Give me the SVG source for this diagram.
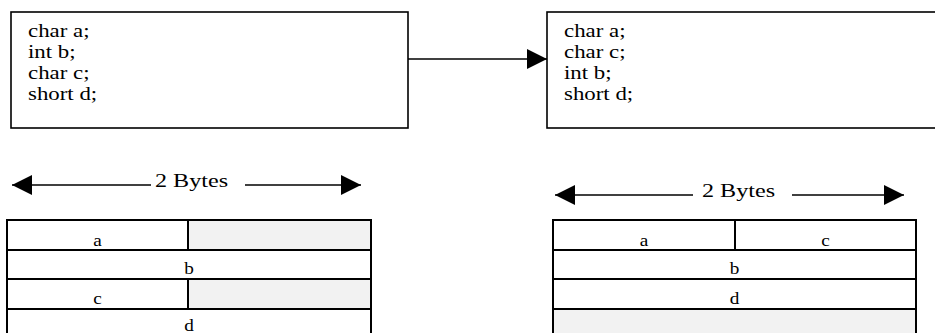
<svg xmlns="http://www.w3.org/2000/svg" width="935" height="333" viewBox="0 0 935 333">
<style>
.box{fill:#fff;stroke:#000;stroke-width:1.6}
.cell{fill:#fff;stroke:#000;stroke-width:2}
.pad{fill:#f2f2f2;stroke:#000;stroke-width:2}
.ln{stroke:#000;stroke-width:1.5;fill:none}
.t{font-family:"Liberation Serif","Times New Roman",serif;font-size:18px;fill:#000}
.lb{font-family:"Liberation Serif","Times New Roman",serif;font-size:16px;fill:#000;text-anchor:middle}
.hd{font-family:"Liberation Serif","Times New Roman",serif;font-size:19px;fill:#000}
</style>
<defs>
<marker id="ah" viewBox="0 0 20 20" refX="20" refY="10" markerWidth="20" markerHeight="20" markerUnits="userSpaceOnUse" orient="auto-start-reverse">
<path d="M0,0 L20,10 L0,20 Z" fill="#000"/>
</marker>
</defs>
<rect width="935" height="333" fill="#fff"/>

<g id="struct-before">
<rect class="box" x="11" y="12" width="397" height="116"/>
<text class="t" transform="translate(28,37) scale(1.27,1)">char a;</text>
<text class="t" transform="translate(28,58) scale(1.27,1)">int b;</text>
<text class="t" transform="translate(28,79) scale(1.27,1)">char c;</text>
<text class="t" transform="translate(28,100) scale(1.27,1)">short d;</text>
</g>

<g id="struct-after">
<rect class="box" x="547" y="12" width="400" height="116"/>
<text class="t" transform="translate(564,37) scale(1.27,1)">char a;</text>
<text class="t" transform="translate(564,58) scale(1.27,1)">char c;</text>
<text class="t" transform="translate(564,79) scale(1.27,1)">int b;</text>
<text class="t" transform="translate(564,100) scale(1.27,1)">short d;</text>
</g>

<g id="connectors">
<line class="ln" x1="408" y1="59" x2="547" y2="59" marker-end="url(#ah)"/>
<line class="ln" x1="12" y1="185" x2="151" y2="185" marker-start="url(#ah)"/>
<line class="ln" x1="245" y1="185" x2="361" y2="185" marker-end="url(#ah)"/>
<line class="ln" x1="555" y1="195" x2="693" y2="195" marker-start="url(#ah)"/>
<line class="ln" x1="792" y1="195" x2="904" y2="195" marker-end="url(#ah)"/>
</g>

<g id="width-label-left">
<text class="hd" transform="translate(155,187) scale(1.27,1)">2 Bytes</text>
</g>
<g id="width-label-right">
<text class="hd" transform="translate(702,197) scale(1.27,1)">2 Bytes</text>
</g>

<g id="layout-before">
<rect class="cell" x="7" y="220" width="181" height="30"/>
<rect class="pad" x="188" y="220" width="183" height="30"/>
<rect class="cell" x="7" y="250" width="364" height="29"/>
<rect class="cell" x="7" y="279" width="181" height="30"/>
<rect class="pad" x="188" y="279" width="183" height="30"/>
<rect class="cell" x="7" y="309" width="364" height="30"/>
<text class="lb" transform="translate(97.5,246) scale(1.2,1)">a</text>
<text class="lb" transform="translate(189,274) scale(1.2,1)">b</text>
<text class="lb" transform="translate(97.5,304) scale(1.2,1)">c</text>
<text class="lb" transform="translate(189,331) scale(1.2,1)">d</text>
</g>

<g id="layout-after">
<rect class="cell" x="553" y="220" width="182" height="30"/>
<rect class="cell" x="735" y="220" width="181" height="30"/>
<rect class="cell" x="553" y="250" width="363" height="29"/>
<rect class="cell" x="553" y="279" width="363" height="30"/>
<rect class="pad" x="553" y="309" width="363" height="30"/>
<text class="lb" transform="translate(644,246) scale(1.2,1)">a</text>
<text class="lb" transform="translate(825.5,246) scale(1.2,1)">c</text>
<text class="lb" transform="translate(734.5,274) scale(1.2,1)">b</text>
<text class="lb" transform="translate(734.5,304) scale(1.2,1)">d</text>
</g>
</svg>
